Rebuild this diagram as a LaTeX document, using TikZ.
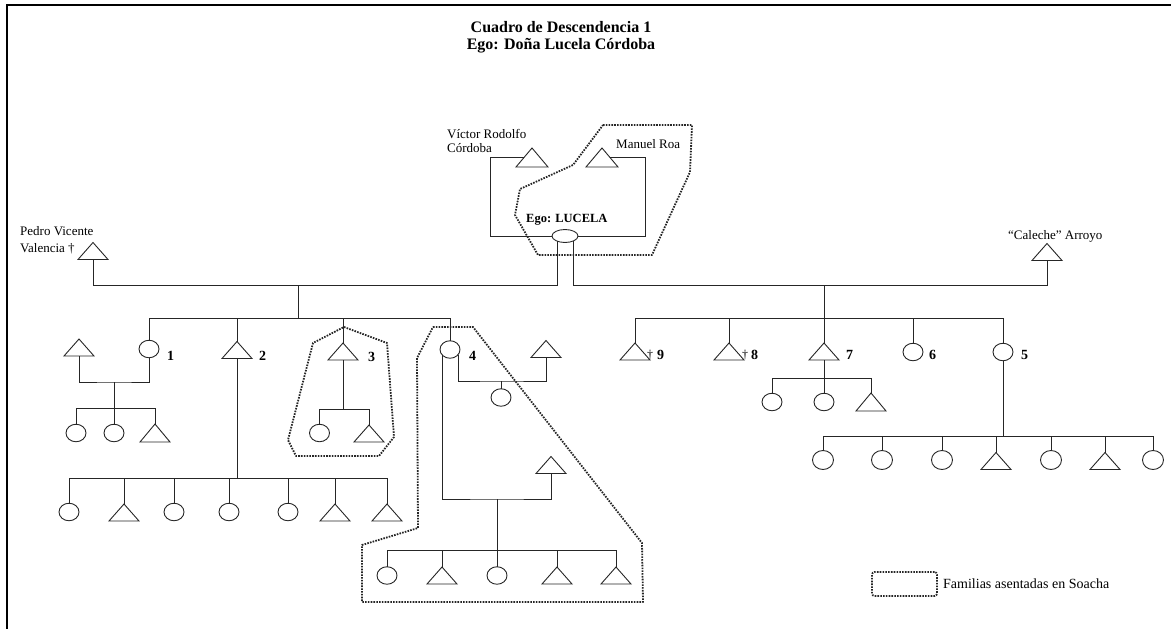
\documentclass[tikz,border=0pt]{standalone}
\usepackage{fontspec}
\setmainfont{Liberation Serif}
\usetikzlibrary{shapes.geometric,calc}
\newcommand\kintri[4][]{\node[tribox,#1] (#2) at (#3,#4) {};
  \draw[famline] (#2.south west) -- (#2.north) -- (#2.south east) -- cycle;}
\begin{document}
\begin{tikzpicture}[x=1pt,y=-1pt,
  famline/.style={line width=0.9pt, draw=black!85},
  tribox/.style={rectangle, draw=none, minimum width=30pt, minimum height=17pt, inner sep=0pt, outer sep=0pt},
  circ/.style={ellipse, draw=black!85, line width=0.9pt, minimum width=20pt, minimum height=17.5pt, inner sep=0pt, outer sep=0pt},
  bigcirc/.style={circ, minimum width=21pt, minimum height=19pt},
  soacha/.style={draw=black!85, line width=1.8pt, dash pattern=on 1.6pt off 1.2pt, line join=round},
  nmtext/.style={font=\fontsize{13}{14}\selectfont, inner sep=0pt, anchor=base west},
  numlabel/.style={font=\fontsize{14}{16}\selectfont\bfseries, inner sep=0pt, anchor=base west},
  ]
\useasboundingbox (0,0) rectangle (1171,629);
% frame
\draw[line width=1.3pt] (7,629) -- (7,5) -- (1171,5);
% titles
\node[font=\fontsize{16}{18}\selectfont\bfseries, anchor=base, inner sep=0pt] (t1) at (561,32) {Cuadro de Descendencia 1};
\node[font=\fontsize{16}{18}\selectfont\bfseries, anchor=base, inner sep=0pt] (t2) at (561,49) {Ego: Doña Lucela Córdoba};

% ---------- top generation ----------
\kintri[minimum width=32pt, minimum height=19pt]{vR}{532}{157.5}
\kintri[minimum width=32pt, minimum height=19pt]{mR}{602}{157.5}
\node[circ, minimum width=26pt, minimum height=13pt] (L) at (565,236) {};
\kintri{pV}{93}{251}
\kintri{cA}{1047}{252}

\node[nmtext] (vRt1) at (447,138) {Víctor Rodolfo};
\node[nmtext] (vRt2) at (447,152) {Córdoba};
\node[nmtext] (mRt) at (616,148) {Manuel Roa};
\node[nmtext] (pVt1) at (20,235) {Pedro Vicente};
\node[nmtext] (pVt2) at (20,252) {Valencia †};
\node[nmtext] (cAt) at (1008,239) {“Caleche” Arroyo};
\node[font=\fontsize{12.5}{14}\selectfont\bfseries, anchor=base west, inner sep=0pt] (egot) at (526,222) {Ego: LUCELA};

\coordinate (vRl) at ($(vR.south west)!0.5!(vR.north)$);
\coordinate (mRr) at ($(mR.south east)!0.5!(mR.north)$);
\draw[famline] (vRl) -- ++(-33.5,0) |- (L.west);
\draw[famline] (mRr) -- ++(35.5,0) |- (L.east);
\draw[famline] ($(L.center)+(-8,5.1)$) -- ++(0,43.9) -| (pV.south);
\draw[famline] ($(L.center)+(8,5.1)$) -- ++(0,43.9) -| (cA.south);

% ---------- left sibship (Pedro + Lucela) ----------
\coordinate (jL) at (298,285);
\coordinate (sL) at (298,318);
\draw[famline] (jL) -- (sL);
\node[circ] (n1) at (149,349) {};
\kintri{n2}{237}{350}
\kintri{n3}{343}{351.5}
\node[circ] (n4) at (450,349.5) {};
\draw[famline] (sL) -| (n1.north);
\draw[famline] (sL) -| (n2.north);
\draw[famline] (sL) -| (n3.north);
\draw[famline] (sL) -| (n4.north);
\node[numlabel] (l1) at (167,360) {1};
\node[numlabel] (l2) at (259,360) {2};
\node[numlabel] (l3) at (368,361) {3};
\node[numlabel] (l4) at (469,360) {4};

% family of 1
\kintri{s1}{79}{347.5}
\coordinate (m1) at (114,382);
\coordinate (k1) at (114,408);
\draw[famline] (s1.south) |- (m1) -| (n1.south);
\draw[famline] (m1) -- (k1);
\node[circ] (c1a) at (76,433) {};
\node[circ] (c1b) at (114,433) {};
\kintri[minimum height=18pt]{c1c}{155}{433}
\draw[famline] (k1) -| (c1a.north);
\draw[famline] (k1) -- (c1b.north);
\draw[famline] (k1) -| (c1c.north);

% family of 2
\coordinate (k2) at (237,478);
\draw[famline] (n2.south) -- (k2);
\node[circ] (c2a) at (69,512) {};
\kintri{c2b}{124}{512.5}
\node[circ] (c2c) at (174,512) {};
\node[circ] (c2d) at (229,512) {};
\node[circ] (c2e) at (288,512) {};
\kintri{c2f}{335}{512.5}
\kintri{c2g}{387}{512.5}
\foreach \c in {c2a,c2b,c2c,c2d,c2e,c2f,c2g} \draw[famline] (k2) -| (\c.north);

% family of 3
\coordinate (k3) at (343,409);
\draw[famline] (n3.south) -- (k3);
\node[circ] (c3a) at (319.5,433) {};
\kintri{c3b}{369}{433.5}
\draw[famline] (k3) -| (c3a.north);
\draw[famline] (k3) -| (c3b.north);

% family of 4 (first union)
\kintri{s4}{546}{349}
\coordinate (m4) at (501,381);
\draw[famline] ($(n4.center)+(8,5)$) |- (m4) -| (s4.south);
\node[circ] (c4s) at (501,397.5) {};
\draw[famline] (m4) -- (c4s.north);

% family of 4 (second union)
\kintri{s4b}{551}{465}
\coordinate (m4b) at (497,499);
\coordinate (k4) at (497,550);
\draw[famline] ($(n4.center)+(-8,5)$) |- (m4b) -| (s4b.south);
\draw[famline] (m4b) -- (k4);
\node[circ] (c4a) at (387,575.5) {};
\kintri{c4b}{442}{575.5}
\node[circ] (c4c) at (497,575.5) {};
\kintri{c4d}{557}{575.5}
\kintri{c4e}{616}{575.5}
\foreach \c in {c4a,c4b,c4c,c4d,c4e} \draw[famline] (k4) -| (\c.north);

% ---------- right sibship (Caleche + Lucela) ----------
\coordinate (jR) at (824,285);
\coordinate (sR) at (824,318);
\kintri{n9}{635}{351.5}
\kintri{n8}{729}{351.5}
\kintri{n7}{824}{351.5}
\node[circ] (n6) at (913,352) {};
\node[circ] (n5) at (1003,352) {};
\draw[famline] (jR) -- (n7.north);
\draw[famline] (sR) -| (n9.north);
\draw[famline] (sR) -| (n8.north);
\draw[famline] (sR) -| (n6.north);
\draw[famline] (sR) -| (n5.north);
\node[font=\fontsize{12}{12}\selectfont, inner sep=0pt, anchor=base west] (d9) at (647,358) {†};
\node[font=\fontsize{12}{12}\selectfont, inner sep=0pt, anchor=base west] (d8) at (742,358) {†};
\node[numlabel] (l9) at (657,359) {9};
\node[numlabel] (l8) at (751,359) {8};
\node[numlabel] (l7) at (846,359) {7};
\node[numlabel] (l6) at (929,359) {6};
\node[numlabel] (l5) at (1021,359) {5};

% family of 7
\coordinate (k7) at (824,378);
\draw[famline] (n7.south) -- (k7);
\node[circ] (c7a) at (772,402) {};
\node[circ] (c7b) at (824,402) {};
\kintri[minimum height=18pt]{c7c}{871}{402}
\draw[famline] (k7) -| (c7a.north);
\draw[famline] (k7) -- (c7b.north);
\draw[famline] (k7) -| (c7c.north);

% family of 5
\coordinate (k5) at (1003,436);
\draw[famline] (n5.south) -- (k5);
\node[bigcirc] (c5a) at (823,460) {};
\node[bigcirc] (c5b) at (882,460) {};
\node[bigcirc] (c5c) at (942,460) {};
\kintri{c5d}{996}{461}
\node[bigcirc] (c5e) at (1051,460) {};
\kintri{c5f}{1105}{461}
\node[bigcirc] (c5g) at (1153,460) {};
\foreach \c in {c5a,c5b,c5c,c5d,c5e,c5f,c5g} \draw[famline] (k5) -| (\c.north);

% ---------- families settled in Soacha ----------
\draw[soacha] (603,125) -- (692,125) -- (690,172) -- (652,255) -- (538,255) -- (515,215) -- (520,189) -- (573,165) -- cycle;
\draw[soacha] (344,327) -- (387,343) -- (394,437) -- (379,456) -- (296,456) -- (288,440) -- (313,343) -- cycle;
\draw[soacha] (433,327) -- (473,327) -- (642,543) -- (643,602) -- (362,602) -- (362,545) -- (418,528) -- (417,358) -- cycle;

% legend
\node[soacha, rounded corners=2.5pt, minimum width=65pt, minimum height=24pt, inner sep=0pt] (leg) at (904.5,584) {};
\node[font=\fontsize{14}{16}\selectfont, inner sep=0pt, anchor=base west] (legt) at (943,588) {Familias asentadas en Soacha};
\end{tikzpicture}
\end{document}
